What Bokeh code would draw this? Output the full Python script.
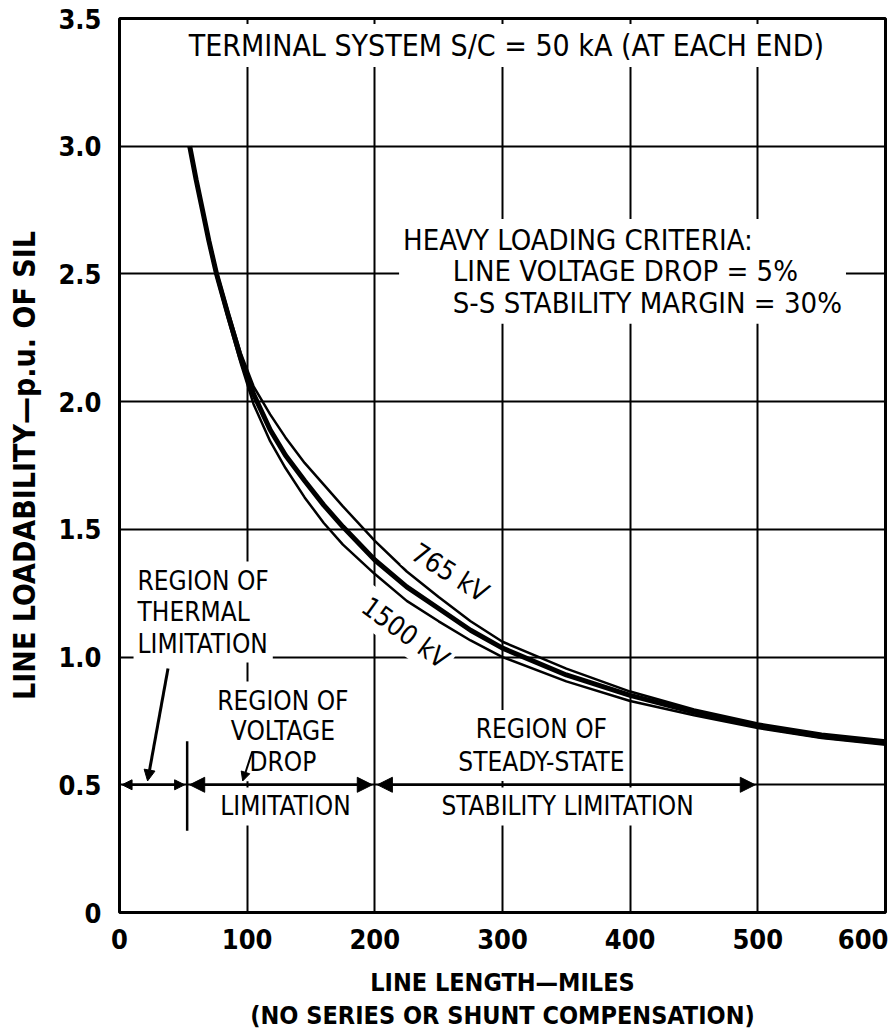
from bokeh.plotting import figure
from bokeh.models import FixedTicker, Label, Arrow, NormalHead, Range1d
from bokeh.embed import file_html
from bokeh.resources import INLINE

# ---------------- data ----------------
miles = [55, 60, 65, 70, 76, 85, 95, 105, 118, 130, 145, 160, 175, 200, 225, 250, 275, 300, 350, 400, 450, 500, 550, 600]
band_pu = [3.00, 2.87, 2.75, 2.63, 2.50, 2.34, 2.17, 2.03, 1.89, 1.79, 1.69, 1.595, 1.51, 1.38, 1.275, 1.19, 1.105, 1.035, 0.93, 0.85, 0.785, 0.73, 0.69, 0.665]
kv765_pu = [3.00, 2.875, 2.755, 2.64, 2.51, 2.355, 2.19, 2.06, 1.95, 1.86, 1.76, 1.675, 1.59, 1.455, 1.335, 1.235, 1.14, 1.06, 0.955, 0.865, 0.795, 0.74, 0.70, 0.673]
kv1500_pu = [3.00, 2.865, 2.745, 2.62, 2.49, 2.325, 2.15, 1.99, 1.845, 1.74, 1.625, 1.525, 1.44, 1.325, 1.22, 1.14, 1.065, 1.00, 0.905, 0.828, 0.772, 0.722, 0.683, 0.657]

x_ticks = [0, 100, 200, 300, 400, 500, 600]
x_tick_labels = ["0", "100", "200", "300", "400", "500", "600"]
y_ticks = [0, 0.5, 1.0, 1.5, 2.0, 2.5, 3.0, 3.5]
y_tick_labels = ["0", "0.5", "1.0", "1.5", "2.0", "2.5", "3.0", "3.5"]

region_bounds = [0, 53, 200, 500]          # miles: thermal | voltage drop | stability
region_arrow_pu = 0.5

FONT = "'Liberation Sans Narrow', 'DejaVu Sans Condensed', 'Arial Narrow', sans-serif"

p = figure(width=888, height=1035, output_backend="svg", toolbar_location=None,
           x_range=Range1d(0, 600), y_range=Range1d(0, 3.5),
           min_border_left=119, min_border_right=3, min_border_top=18, min_border_bottom=123)
p.background_fill_color = "white"
p.border_fill_color = "white"
p.outline_line_color = "black"
p.outline_line_width = 3

# axes
for ax in (p.xaxis[0], p.yaxis[0]):
    ax.axis_line_color = None
    ax.major_tick_line_color = None
    ax.minor_tick_line_color = None
    ax.major_label_text_font = FONT
    ax.major_label_text_font_style = "bold"
    ax.major_label_text_font_size = "27px"
    ax.major_label_text_color = "black"
    ax.axis_label_text_font = FONT
    ax.axis_label_text_font_style = "bold"
    ax.axis_label_text_color = "black"

p.xaxis.ticker = FixedTicker(ticks=x_ticks)
p.xaxis.major_label_overrides = {t: l for t, l in zip(x_ticks, x_tick_labels)}
p.yaxis.ticker = FixedTicker(ticks=y_ticks)
p.yaxis.major_label_overrides = {t: l for t, l in zip(y_ticks, y_tick_labels)}
p.xaxis.major_label_standoff = 10
p.yaxis.major_label_standoff = 12
p.xaxis.axis_label = "LINE LENGTH\u2014MILES\n(NO SERIES OR SHUNT COMPENSATION)"
p.yaxis.axis_label = "LINE LOADABILITY\u2014p.u. OF SIL"
p.xaxis.axis_label_text_font_size = "25px"
p.xaxis.axis_label_text_line_height = 1.15
p.yaxis.axis_label_text_font_size = "30px"
p.xaxis.axis_label_standoff = 16
p.yaxis.axis_label_standoff = 13

# grid
p.xgrid.ticker = FixedTicker(ticks=x_ticks[1:-1])
p.ygrid.ticker = FixedTicker(ticks=y_ticks[1:-1])
for g in (p.xgrid[0], p.ygrid[0]):
    g.grid_line_color = "black"
    g.grid_line_width = 2
    g.grid_line_alpha = 1.0

# curves
p.line(miles, kv765_pu, line_color="black", line_width=2.5)
p.line(miles, kv1500_pu, line_color="black", line_width=2.5)
p.line(miles, band_pu, line_color="black", line_width=5)

# region divider between thermal and voltage-drop
p.segment(x0=[region_bounds[1]], y0=[region_arrow_pu - 0.18], x1=[region_bounds[1]], y1=[region_arrow_pu + 0.17],
          line_color="black", line_width=2.5)

def lab(text, x, y, size="29px", align="center", angle=0.0, lh=1.05):
    l = Label(x=x, y=y, text=text, text_font=FONT, text_font_size=size, text_align=align,
              text_baseline="middle", text_color="black", angle=angle,
              background_fill_color="white", background_fill_alpha=1.0,
              text_line_height=lh, padding=4)
    p.add_layout(l)

NB = "\u00a0"
lab("TERMINAL SYSTEM S/C = 50 kA (AT EACH END)", 303, 3.394, size="30px")
lab("HEAVY LOADING CRITERIA:\n" + NB * 6 + "LINE VOLTAGE DROP" + NB + "=" + NB + "5%\n"
    + NB * 6 + "S-S STABILITY MARGIN" + NB + "=" + NB + "30%",
    219, 2.51, align="left", lh=0.92)
lab("REGION OF\nTHERMAL\nLIMITATION", 11, 1.176, size="26px", align="left")
lab("REGION OF\nVOLTAGE\nDROP", 128, 0.709, size="26px", lh=1.03)
lab("LIMITATION", 130, 0.415, size="26px")
lab("REGION OF\nSTEADY-STATE", 330.5, 0.654, size="26px", lh=1.1)
lab("STABILITY LIMITATION", 351, 0.415, size="26px")
lab("765 kV", 259, 1.331, size="27px", angle=-0.56)
lab("1500 kV", 224, 1.096, size="27px", angle=-0.63)

# region arrows on the 0.5 line
heads = [10, 15, 15]
for i in range(3):
    p.add_layout(Arrow(start=NormalHead(size=heads[i], fill_color="black", line_color="black"),
                       end=NormalHead(size=heads[i], fill_color="black", line_color="black"),
                       x_start=region_bounds[i] + 2, y_start=region_arrow_pu,
                       x_end=region_bounds[i + 1] - 2, y_end=region_arrow_pu,
                       line_color="black", line_width=2.5))

# pointer arrows
p.add_layout(Arrow(end=NormalHead(size=11, fill_color="black", line_color="black"),
                   x_start=38, y_start=0.955, x_end=22, y_end=0.515, line_color="black", line_width=3))
p.add_layout(Arrow(end=NormalHead(size=9, fill_color="black", line_color="black"),
                   x_start=104, y_start=0.63, x_end=96.5, y_end=0.515, line_color="black", line_width=2))

open("out.html", "w").write(file_html(p, INLINE))
